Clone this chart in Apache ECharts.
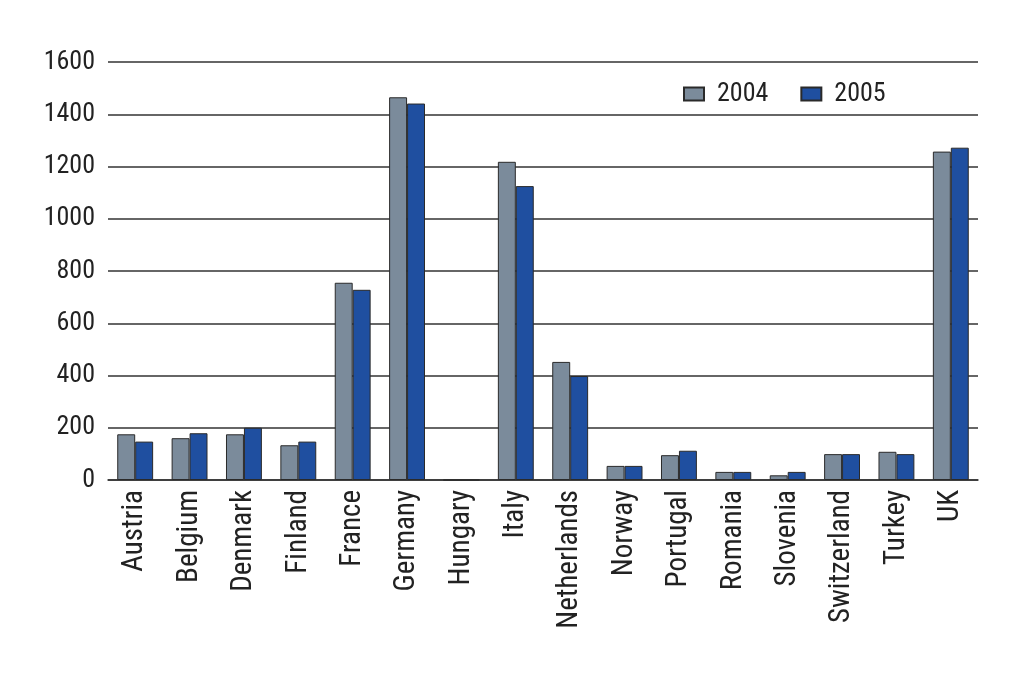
<!DOCTYPE html>
<html><head><meta charset="utf-8">
<script src="https://cdn.jsdelivr.net/npm/echarts@6/dist/echarts.min.js"></script>
<style>html,body{margin:0;padding:0;background:#fff}#c{width:1024px;height:677px}</style>
</head><body><div id="c"></div>
<script>
var categories = ['Austria','Belgium','Denmark','Finland','France','Germany','Hungary','Italy','Netherlands','Norway','Portugal','Romania','Slovenia','Switzerland','Turkey','UK'];
var values2004 = [175,160,175,133,755,1465,0,1218,452,54,95,31,18,99,108,1257];
var values2005 = [147,179,200,147,728,1441,0,1125,398,54,112,31,31,99,99,1272];
var yTicks = [0,200,400,600,800,1000,1200,1400,1600];
var FONT = "'Liberation Sans Narrow','Roboto Condensed','Liberation Sans',sans-serif";
var chart = echarts.init(document.getElementById('c'));
chart.setOption({
  backgroundColor:'#fff',
  animation:false,
  grid:{left:108,right:46,top:62,bottom:197},
  legend:{
    left:678, top:76, itemWidth:20, itemHeight:13, itemGap:32,
    icon:'rect',
    textStyle:{fontFamily:FONT,fontSize:26,color:'#222',padding:[0,0,0,8]},
    data:['2004','2005']
  },
  xAxis:{
    type:'category', data:categories,
    axisLine:{lineStyle:{color:'#333',width:1.5}},
    axisTick:{show:false},
    axisLabel:{rotate:90,fontFamily:FONT,fontSize:29,color:'#222',margin:10,interval:0}
  },
  yAxis:{
    type:'value', min:yTicks[0], max:yTicks[yTicks.length-1], interval:200,
    axisLine:{show:false}, axisTick:{show:false},
    splitLine:{lineStyle:{color:'#333',width:1.5}},
    axisLabel:{fontFamily:FONT,fontSize:26,color:'#222',margin:13,formatter:function(v){return String(v);}}
  },
  series:[
    {name:'2004',type:'bar',data:values2004,barGap:'0%',barCategoryGap:'34%',
     itemStyle:{color:'#7b8b9b',borderColor:'#2a2a2a',borderWidth:1}},
    {name:'2005',type:'bar',data:values2005,
     itemStyle:{color:'#1f4fa0',borderColor:'#2a2a2a',borderWidth:1}}
  ]
});
</script></body></html>
